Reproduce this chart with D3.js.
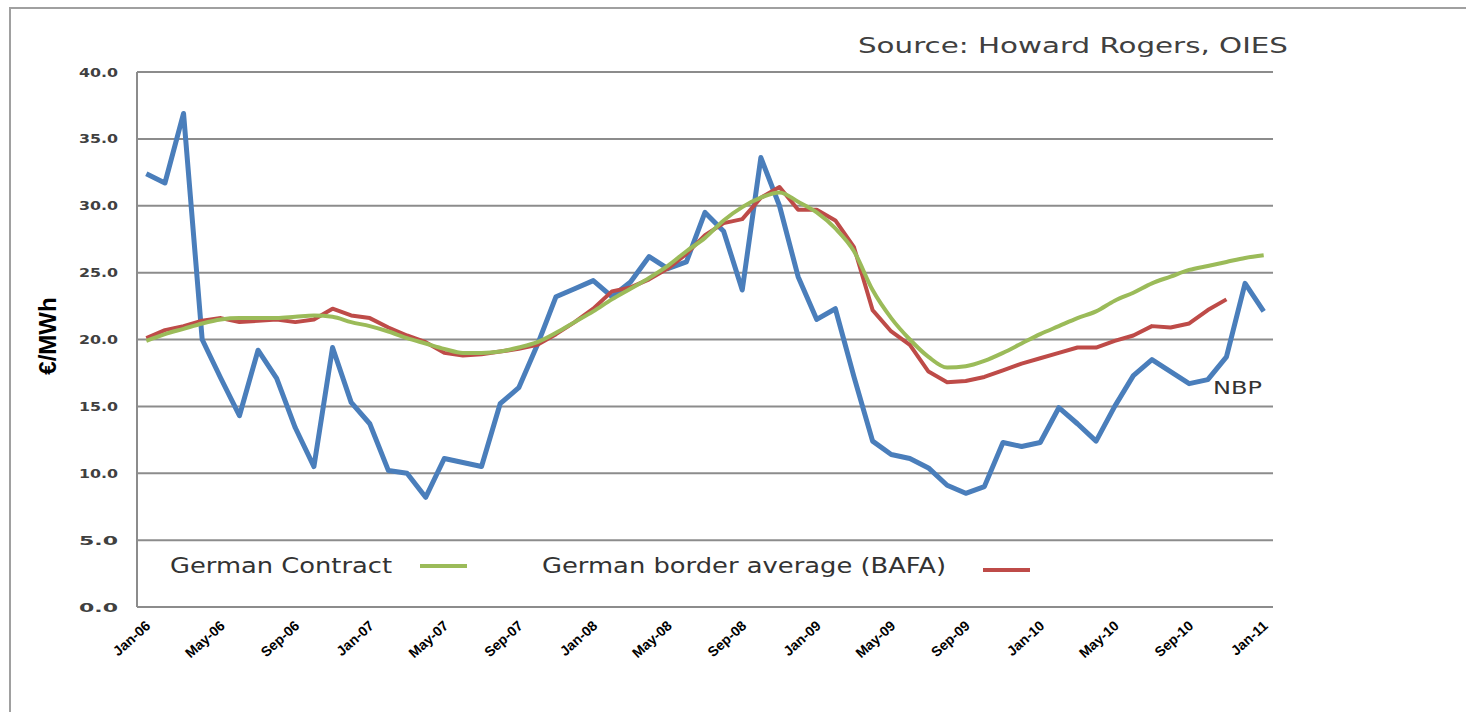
<!DOCTYPE html>
<html>
<head>
<meta charset="utf-8">
<script src="https://cdn.jsdelivr.net/npm/d3@7"></script>
<style>
  body { margin: 0; background: #fff; }
  svg { display: block; }
</style>
</head>
<body>
<svg width="1466" height="712"></svg>
<script>
// monthly series, Jan-06 .. Jan-11
var months = d3.range(61).map(function (i) { return new Date(2006, i, 1); });

var nbp = [32.4, 31.7, 36.9, 20.0, 17.1, 14.3, 19.2, 17.1, 13.4, 10.5,
           19.4, 15.3, 13.7, 10.2, 10.0, 8.2, 11.1, 10.8, 10.5, 15.2,
           16.4, 19.6, 23.2, 23.8, 24.4, 23.2, 24.3, 26.2, 25.3, 25.8,
           29.5, 28.1, 23.7, 33.6, 30.0, 24.7, 21.5, 22.3, 17.2, 12.4,
           11.4, 11.1, 10.4, 9.1, 8.5, 9.0, 12.3, 12.0, 12.3, 14.9,
           13.7, 12.4, 15.0, 17.3, 18.5, 17.6, 16.7, 17.0, 18.7, 24.2, 22.1];

var germanContract = [19.9, 20.4, 20.8, 21.2, 21.5, 21.6, 21.6, 21.6, 21.7, 21.8,
                      21.7, 21.3, 21.0, 20.6, 20.1, 19.7, 19.3, 19.0, 19.0, 19.1,
                      19.4, 19.8, 20.5, 21.3, 22.1, 23.0, 23.8, 24.6, 25.5, 26.6,
                      27.6, 28.9, 29.9, 30.6, 31.0, 30.3, 29.5, 28.3, 26.6, 23.7,
                      21.6, 20.0, 18.7, 17.9, 18.0, 18.4, 19.0, 19.7, 20.4, 21.0,
                      21.6, 22.1, 22.9, 23.5, 24.2, 24.7, 25.2, 25.5, 25.8, 26.1, 26.3];

var bafa = [20.1, 20.7, 21.0, 21.4, 21.6, 21.3, 21.4, 21.5, 21.3, 21.5,
            22.3, 21.8, 21.6, 20.9, 20.3, 19.8, 19.0, 18.8, 18.9, 19.1,
            19.3, 19.6, 20.4, 21.3, 22.3, 23.6, 23.9, 24.5, 25.3, 26.4,
            27.8, 28.7, 29.0, 30.6, 31.4, 29.7, 29.7, 28.9, 26.9, 22.2,
            20.6, 19.6, 17.6, 16.8, 16.9, 17.2, 17.7, 18.2, 18.6, 19.0,
            19.4, 19.4, 19.9, 20.3, 21.0, 20.9, 21.2, 22.2, 23.0];

var yTicks = [0, 5, 10, 15, 20, 25, 30, 35, 40];
var fmtMonth = d3.timeFormat("%b-%y");

var svg = d3.select("svg");

// outer frame (cropped on right and bottom)
svg.append("path")
    .attr("d", "M10,712 L10,8 L1466,8")
    .attr("fill", "none")
    .attr("stroke", "#a0a0a0")
    .attr("stroke-width", 2);

var plotL = 137, plotR = 1273, plotT = 72, plotB = 607;

var x = d3.scaleBand()
    .domain(months)
    .range([plotL, plotR]);
var xc = function (i) { return x(months[i]) + x.bandwidth() / 2; };

var y = d3.scaleLinear()
    .domain([0, 40])
    .range([plotB, plotT]);

// horizontal gridlines
svg.append("g")
    .selectAll("line")
    .data(yTicks)
    .enter().append("line")
    .attr("x1", plotL)
    .attr("x2", plotR)
    .attr("y1", function (d) { return y(d); })
    .attr("y2", function (d) { return y(d); })
    .attr("stroke", "#8c8c8c")
    .attr("stroke-width", 2);

// left axis line
svg.append("line")
    .attr("x1", plotL).attr("x2", plotL)
    .attr("y1", plotT).attr("y2", plotB)
    .attr("stroke", "#8c8c8c")
    .attr("stroke-width", 2);

// y tick labels
svg.append("g")
    .selectAll("text")
    .data(yTicks)
    .enter().append("text")
    .attr("x", 118)
    .attr("y", function (d) { return y(d); })
    .attr("dy", "0.35em")
    .attr("text-anchor", "end")
    .attr("font-family", "DejaVu Sans")
    .attr("font-size", 13)
    .attr("font-weight", "bold")
    .attr("fill", "#404040")
    .attr("textLength", 39)
    .attr("lengthAdjust", "spacingAndGlyphs")
    .text(function (d) { return d.toFixed(1); });

// y axis title
svg.append("text")
    .attr("transform", "translate(56,336) rotate(-90)")
    .attr("text-anchor", "middle")
    .attr("font-family", "Liberation Sans")
    .attr("font-size", 24)
    .attr("font-weight", "bold")
    .attr("fill", "#000")
    .text("€/MWh");

// x tick labels every 4 months
var xTickIdx = d3.range(0, 61, 4);
svg.append("g")
    .selectAll("text")
    .data(xTickIdx)
    .enter().append("text")
    .attr("transform", function (i) { return "translate(" + (xc(i) + 5) + ",627) rotate(-42)"; })
    .attr("text-anchor", "end")
    .attr("font-family", "Liberation Sans")
    .attr("font-size", 14)
    .attr("font-weight", "bold")
    .attr("fill", "#000")
    .text(function (i) { return fmtMonth(months[i]); });

var line = d3.line()
    .x(function (d, i) { return xc(i); })
    .y(function (d) { return y(d); });

svg.append("path")
    .datum(nbp)
    .attr("d", line)
    .attr("fill", "none")
    .attr("stroke", "#4a7ebb")
    .attr("stroke-width", 5)
    .attr("stroke-linejoin", "round");

svg.append("path")
    .datum(bafa)
    .attr("d", line)
    .attr("fill", "none")
    .attr("stroke", "#be4b48")
    .attr("stroke-width", 4)
    .attr("stroke-linejoin", "round");

svg.append("path")
    .datum(germanContract)
    .attr("d", line.curve(d3.curveMonotoneX))
    .attr("fill", "none")
    .attr("stroke", "#9bbb59")
    .attr("stroke-width", 4)
    .attr("stroke-linejoin", "round");

// legend-like labels
var lbl = svg.append("g")
    .attr("font-family", "DejaVu Sans")
    .attr("fill", "#333");

lbl.append("text")
    .attr("x", 170).attr("y", 573)
    .attr("font-size", 21)
    .attr("textLength", 222)
    .attr("lengthAdjust", "spacingAndGlyphs")
    .text("German Contract");
svg.append("line")
    .attr("x1", 420).attr("x2", 467)
    .attr("y1", 566).attr("y2", 566)
    .attr("stroke", "#9bbb59").attr("stroke-width", 4);

lbl.append("text")
    .attr("x", 542).attr("y", 573)
    .attr("font-size", 21)
    .attr("textLength", 404)
    .attr("lengthAdjust", "spacingAndGlyphs")
    .text("German border average (BAFA)");
svg.append("line")
    .attr("x1", 983).attr("x2", 1030)
    .attr("y1", 570).attr("y2", 570)
    .attr("stroke", "#be4b48").attr("stroke-width", 4);

lbl.append("text")
    .attr("x", 1213).attr("y", 394)
    .attr("font-size", 18)
    .attr("textLength", 49)
    .attr("lengthAdjust", "spacingAndGlyphs")
    .text("NBP");

lbl.append("text")
    .attr("x", 858).attr("y", 53)
    .attr("font-size", 22)
    .attr("fill", "#404040")
    .attr("textLength", 430)
    .attr("lengthAdjust", "spacingAndGlyphs")
    .text("Source: Howard Rogers, OIES");
</script>
</body>
</html>
